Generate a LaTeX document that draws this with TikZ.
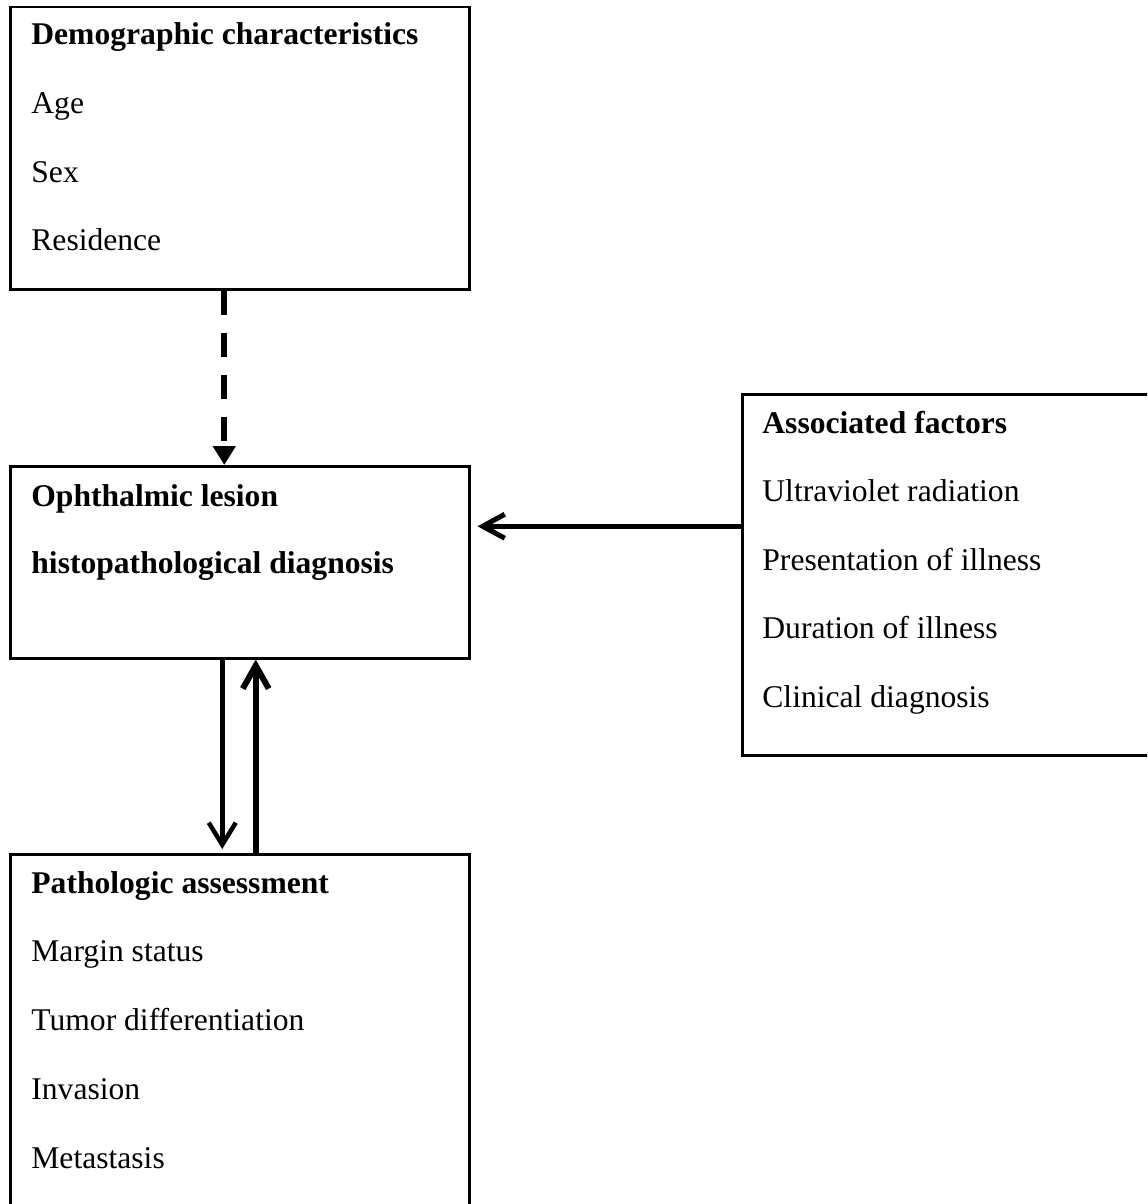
\documentclass[tikz,border=0pt]{standalone}
\usepackage{fontspec}
\setmainfont{Liberation Serif}
\usetikzlibrary{arrows.meta}
\begin{document}
\begin{tikzpicture}[x=0.5pt,y=-0.5pt]
\tikzset{every node/.style={font=\fontsize{15.8pt}{19pt}\selectfont}}
\tikzset{box/.style={draw, line width=1.25pt, inner sep=0pt, anchor=north west, minimum width=229.5pt}}
\tikzset{item/.style={inner sep=0pt, anchor=base west}}
\tikzset{head/.style={item, font=\fontsize{15.8pt}{19pt}\selectfont\bfseries}}
\useasboundingbox (0,0) rectangle (1147,1204);
\clip (0,0) rectangle (1147,1204);
\node[box, minimum height=141pt] (demo) at (9,6) {};
\node[box, minimum height=96pt] (lesion) at (9,465) {};
\node[box, minimum width=209.5pt, minimum height=180.5pt] (factors) at (741,393) {};
\node[box, minimum height=181pt] (patho) at (9,853) {};
\node[head] (demo-h) at (31,45) {Demographic characteristics};
\foreach \txt [count=\i] in {Age,Sex,Residence}
  \node[item] (demo-\i) at (31,45+68.5*\i) {\txt};
\node[head] (lesion-1) at (31,506) {Ophthalmic lesion};
\node[head] (lesion-2) at (31,573) {histopathological diagnosis};
\node[head] (factors-h) at (762,433) {Associated factors};
\foreach \txt [count=\i] in {Ultraviolet radiation,Presentation of illness,Duration of illness,Clinical diagnosis}
  \node[item] (factors-\i) at (762,433+68.5*\i) {\txt};
\node[head] (patho-h) at (31,893) {Pathologic assessment};
\foreach \txt [count=\i] in {Margin status,Tumor differentiation,Invasion,Metastasis}
  \node[item] (patho-\i) at (31,893+68.75*\i) {\txt};
\draw[line width=3pt, dash pattern=on 12pt off 9pt, -{Triangle[width=11pt,length=9.5pt]}]
  ([xshift=-7.75pt]demo.south) -- ([xshift=-7.75pt]lesion.north);
\coordinate (uv) at ([yshift=24.25pt]factors.west);
\draw[line width=2.5pt, -{Straight Barb[length=11pt,width=12pt]}, shorten >=3.5pt]
  (uv) -- (uv -| lesion.east);
\draw[line width=2.25pt, -{Straight Barb[length=11pt,width=13.5pt]}, shorten >=2pt]
  ([xshift=-8.75pt]lesion.south) -- ([xshift=-8.75pt]patho.north);
\draw[line width=3pt, -{Straight Barb[length=11.5pt,width=13pt]}]
  ([xshift=8pt]patho.north) -- ([xshift=8pt]lesion.south);
\end{tikzpicture}
\end{document}
